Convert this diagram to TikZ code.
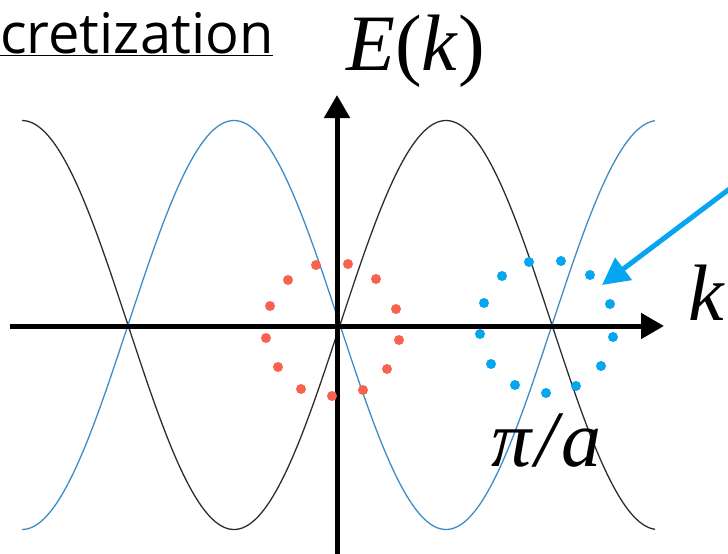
\documentclass[tikz,border=0pt]{standalone}
\usepackage{fontspec}
\setmainfont{Liberation Serif}
\newfontfamily\sansf{Open Sans}
\usetikzlibrary{arrows.meta}
\definecolor{curveblue}{RGB}{60,140,200}
\definecolor{curveblack}{RGB}{45,45,45}
\definecolor{dotred}{RGB}{248,98,78}
\definecolor{dotblue}{RGB}{5,165,240}
\begin{document}
\begin{tikzpicture}[x=1pt,y=-1pt,
  bandblack/.style={curveblack,line width=1.3pt},
  bandblue/.style={curveblue,line width=1.3pt},
  axisline/.style={black,line width=5pt},
  axistip/.style={-{Triangle[length=23pt,width=25pt]}},
  rdot/.style={circle,fill=dotred,inner sep=0pt,minimum size=10pt},
  bdot/.style={circle,fill=dotblue,inner sep=0pt,minimum size=10pt},
  pointer/.style={dotblue,line width=5pt,-{Triangle[length=27pt,width=27pt]}},
  lbl/.style={inner sep=0pt,font=\fontsize{80}{80}\selectfont}]
\useasboundingbox (0,0) rectangle (728,554);
% bands
\draw[bandblack] plot[domain=22:655,samples=240] (\x,{325-204.5*cos((\x-22)/212*180)});
\draw[bandblue] plot[domain=22:655,samples=240] (\x,{325+204.5*cos((\x-22)/212*180)});
% axes
\coordinate (hL) at (10,326);
\coordinate (hR) at (664,326);
\coordinate (vB) at (337,560);
\coordinate (vT) at (337,95);
\draw[axisline,axistip] (hL) -- (hR);
\draw[axisline,axistip] (vB) -- (vT);
% red dots
\node[rdot] (r1) at (316,265) {};
\node[rdot] (r2) at (348,264) {};
\node[rdot] (r3) at (288,280) {};
\node[rdot] (r4) at (376,279) {};
\node[rdot] (r5) at (270,306) {};
\node[rdot] (r6) at (396,309) {};
\node[rdot] (r7) at (266,338) {};
\node[rdot] (r8) at (399,340) {};
\node[rdot] (r9) at (278,367) {};
\node[rdot] (r10) at (387,369) {};
\node[rdot] (r11) at (301,389) {};
\node[rdot] (r12) at (363,390) {};
\node[rdot] (r13) at (332,396) {};
% blue dots
\node[bdot] (b1) at (529,262) {};
\node[bdot] (b2) at (561,261) {};
\node[bdot] (b3) at (502,276) {};
\node[bdot] (b4) at (590,275) {};
\node[bdot] (b5) at (484,303) {};
\node[bdot] (b6) at (610,304) {};
\node[bdot] (b7) at (480,334) {};
\node[bdot] (b8) at (613,337) {};
\node[bdot] (b9) at (491,364) {};
\node[bdot] (b10) at (601,366) {};
\node[bdot] (b11) at (515,385) {};
\node[bdot] (b12) at (576,386) {};
\node[bdot] (b13) at (546,393) {};
% pointer arrow
\coordinate (pS) at (748,175);
\coordinate (pT) at (602,285);
\draw[pointer] (pS) -- (pT);
% labels
\node[inner sep=0pt,anchor=base west,font=\sansf\fontsize{56}{56}\selectfont] (title) at (0,53) {\underline{cretization}};
\node[lbl,anchor=base west] (Ek) at (346,70) {\textit{E}(\textit{k})};
\node[lbl,anchor=base west] (klab) at (688,320) {\textit{k}};
\node[lbl,anchor=base west] (pia) at (491,466) {\textit{π\kern4pt/\kern4pt a}};
\end{tikzpicture}
\end{document}
